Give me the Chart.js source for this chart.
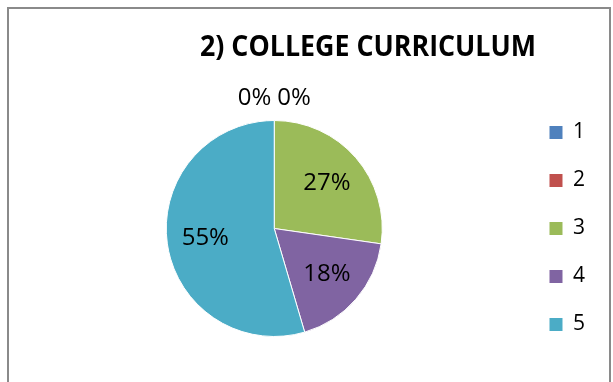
<!DOCTYPE html>
<html>
<head>
<meta charset="utf-8">
<title>College curriculum</title>
<script src="https://cdn.jsdelivr.net/npm/chart.js@4.4.1/dist/chart.umd.min.js"></script>
<style>
  html, body { margin: 0; padding: 0; background: #fff; }
  #wrap { width: 613px; height: 382px; }
</style>
</head>
<body>
<div id="wrap"><canvas id="pieChart" width="613" height="382"></canvas></div>
<script>
// survey answers for question 2
const chartTitle = '2) COLLEGE CURRICULUM';
const categories = ['1', '2', '3', '4', '5'];
const responses = [0, 0, 3, 2, 6];
const sliceColors = ['#4F81BD', '#C0504D', '#9BBB59', '#8064A2', '#4BACC6'];

const labelFont = '24px "Open Sans"';

// white background + grey frame (bottom edge runs off the canvas)
const framePlugin = {
  id: 'frame',
  beforeDraw(chart) {
    const ctx = chart.ctx;
    ctx.save();
    ctx.fillStyle = '#fff';
    ctx.fillRect(0, 0, chart.width, chart.height);
    ctx.strokeStyle = '#8a8a8a';
    ctx.lineWidth = 2;
    ctx.strokeRect(8, 8, 602, chart.height + 20);
    ctx.restore();
  }
};

// bold title, squeezed a bit so it keeps the narrow look
const titlePlugin = {
  id: 'squeezedTitle',
  afterDraw(chart) {
    const ctx = chart.ctx;
    ctx.save();
    ctx.font = 'bold 29px "Open Sans"';
    ctx.fillStyle = '#000';
    ctx.textBaseline = 'alphabetic';
    const w = ctx.measureText(chartTitle).width;
    ctx.translate(200, 56);
    ctx.scale(336 / w, 1);
    ctx.fillText(chartTitle, 0, 0);
    ctx.restore();
  }
};

// percentage labels: inside the slice, zero slices stacked side by side above the pie
const percentPlugin = {
  id: 'percentLabels',
  afterDatasetsDraw(chart) {
    const ctx = chart.ctx;
    const data = chart.data.datasets[0].data;
    const total = data.reduce((a, b) => a + b, 0);
    const arcs = chart.getDatasetMeta(0).data;
    ctx.save();
    ctx.font = labelFont;
    ctx.fillStyle = '#000';
    ctx.textAlign = 'center';
    ctx.textBaseline = 'middle';

    const zeros = [];
    arcs.forEach((arc, i) => {
      const txt = Math.round(data[i] / total * 100) + '%';
      if (data[i] === 0) {
        zeros.push({ arc, txt });
        return;
      }
      const mid = (arc.startAngle + arc.endAngle) / 2;
      const d = arc.outerRadius * 0.645;
      ctx.fillText(txt, arc.x + Math.cos(mid) * d, arc.y + Math.sin(mid) * d);
    });

    if (zeros.length) {
      const gap = 6;
      const widths = zeros.map(z => ctx.measureText(z.txt).width);
      const groupW = widths.reduce((a, b) => a + b, 0) + gap * (zeros.length - 1);
      const a0 = zeros[0].arc;
      const r = a0.outerRadius + 22;
      const px = a0.x + Math.cos(a0.startAngle) * r;
      const py = a0.y + Math.sin(a0.startAngle) * r;
      let x = px - groupW / 2;
      zeros.forEach((z, i) => {
        ctx.fillText(z.txt, x + widths[i] / 2, py);
        x += widths[i] + gap;
      });
    }
    ctx.restore();
  }
};

new Chart(document.getElementById('pieChart'), {
  type: 'pie',
  data: {
    labels: categories,
    datasets: [{
      data: responses,
      backgroundColor: sliceColors,
      borderColor: '#fff',
      borderWidth: 1
    }]
  },
  options: {
    responsive: false,
    devicePixelRatio: 1,
    animation: false,
    radius: 108,
    layout: {
      padding: { left: 26, right: 18, top: 80, bottom: 5 }
    },
    plugins: {
      title: { display: false },
      tooltip: { enabled: false },
      legend: {
        position: 'right',
        labels: {
          boxWidth: 13,
          boxHeight: 13,
          padding: 27,
          color: '#000',
          font: { family: 'Open Sans', size: 21 },
          // plain filled squares, no white outline
          generateLabels(chart) {
            const items = Chart.overrides.pie.plugins.legend.labels.generateLabels(chart);
            items.forEach(it => { it.lineWidth = 0; it.strokeStyle = it.fillStyle; });
            return items;
          }
        }
      }
    }
  },
  plugins: [framePlugin, titlePlugin, percentPlugin]
});
</script>
</body>
</html>
